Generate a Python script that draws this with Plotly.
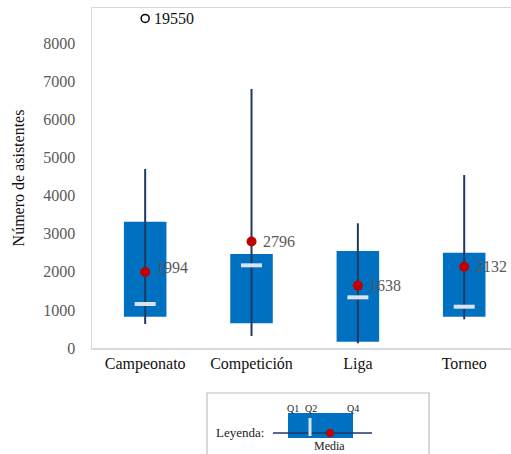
import plotly.graph_objects as go

categories = ["Campeonato", "Competición", "Liga", "Torneo"]
whisker_low = [630, 315, 123, 753]
q1 = [822, 648, 165, 822]
median = [1155, 2170, 1330, 1084]
q3 = [3315, 2467, 2546, 2500]
whisker_high = [4700, 6800, 3273, 4540]
means = [1994, 2796, 1638, 2132]
outlier_cat = ["Campeonato"]
outlier_value = [19550]
outlier_shown_at = [8650]
y_ticks = [0, 1000, 2000, 3000, 4000, 5000, 6000, 7000, 8000]

FONT = "Liberation Serif, Times New Roman, DejaVu Serif, serif"
BOX = "#0070C0"
WHISK = "#203864"
MED = "#DAE3F3"
MEAN = "#C00000"
GRAY = "#595959"

W, H = 511, 454
L, R, T, B = 92, 0, 8, 106
pw, ph = W - L - R, H - T - B

def px(x):
    return (x - L) / pw

def py(y):
    return (H - B - y) / ph

fig = go.Figure()

fig.add_trace(go.Bar(
    x=categories, y=[b - a for a, b in zip(q1, q3)], base=q1,
    width=0.4, marker=dict(color=BOX, line=dict(width=0)), hoverinfo="skip"))

wx, wy = [], []
for c, lo, hi in zip(categories, whisker_low, whisker_high):
    wx += [c, c, None]
    wy += [lo, hi, None]
fig.add_trace(go.Scatter(x=wx, y=wy, mode="lines",
                         line=dict(color=WHISK, width=2), hoverinfo="skip"))

fig.add_trace(go.Scatter(x=categories, y=median, mode="markers",
                         marker=dict(symbol="line-ew", size=15,
                                     line=dict(color=MED, width=4))))

fig.add_trace(go.Scatter(x=categories, y=means, mode="markers",
                         marker=dict(color=MEAN, size=10)))

fig.add_trace(go.Scatter(x=outlier_cat, y=outlier_shown_at, mode="markers",
                         marker=dict(symbol="circle-open", color="#000000", size=8,
                                     line=dict(width=1.5))))

shapes = []
annos = []

for i, (c, m) in enumerate(zip(categories, means)):
    annos.append(dict(text=str(m), x=c, y=m, xref="x", yref="y", showarrow=False,
                      xanchor="left", yanchor="middle", xshift=9,
                      yshift=5 if i == 0 else 0,
                      font=dict(family=FONT, size=16, color=GRAY)))
for c, v, s in zip(outlier_cat, outlier_value, outlier_shown_at):
    annos.append(dict(text=str(v), x=c, y=s, xref="x", yref="y", showarrow=False,
                      xanchor="left", yanchor="middle", xshift=7,
                      font=dict(family=FONT, size=16, color="#111111")))

# legend box
shapes.append(dict(type="rect", xref="paper", yref="paper",
                   x0=px(207), x1=px(429), y0=py(470), y1=py(393),
                   line=dict(color="#bfbfbf", width=1.2), fillcolor="white"))
shapes.append(dict(type="rect", xref="paper", yref="paper",
                   x0=px(288), x1=px(353), y0=py(438), y1=py(413),
                   line=dict(width=0), fillcolor=BOX))
shapes.append(dict(type="line", xref="paper", yref="paper",
                   x0=px(273), x1=px(372), y0=py(433), y1=py(433),
                   line=dict(color=WHISK, width=1.5)))
shapes.append(dict(type="line", xref="paper", yref="paper",
                   x0=px(310), x1=px(310), y0=py(418), y1=py(436),
                   line=dict(color=MED, width=3)))
shapes.append(dict(type="circle", xref="paper", yref="paper",
                   x0=px(326), x1=px(334), y0=py(437), y1=py(429),
                   line=dict(width=0), fillcolor=MEAN))

def ann(text, x, y, size, color="#222222", xanchor="center"):
    annos.append(dict(text=text, xref="paper", yref="paper", x=px(x), y=py(y),
                      showarrow=False, xanchor=xanchor, yanchor="middle",
                      font=dict(family=FONT, size=size, color=color)))

ann("Leyenda:", 214, 432, 13, xanchor="left")
ann("Q1", 293, 408, 10)
ann("Q2", 311, 408, 10)
ann("Q4", 353, 408, 10)
ann("Media", 329, 446, 12)

fig.update_layout(
    width=W, height=H,
    margin=dict(l=L, r=R, t=T, b=B, pad=0),
    plot_bgcolor="white", paper_bgcolor="white",
    showlegend=False, hovermode=False,
    shapes=shapes, annotations=annos,
    xaxis=dict(range=[-0.5, 3.44], showgrid=False, ticks="",
               showline=True, mirror=True, linecolor="#d9d9d9", linewidth=1.5,
               tickfont=dict(family=FONT, size=16, color="#111111"),
               automargin=False, fixedrange=True),
    yaxis=dict(range=[0, 8924], tickvals=y_ticks, showgrid=False, ticks="",
               zeroline=False, automargin=False,
               showline=True, mirror=False, linecolor="#d9d9d9", linewidth=1.5,
               tickfont=dict(family=FONT, size=16, color=GRAY),
               ticklabelstandoff=12,
               title=dict(text="Número de asistentes", standoff=14,
                          font=dict(family=FONT, size=16, color="#111111"))),
)

fig.write_html("out.html", config={"displayModeBar": False, "staticPlot": True},
               post_script="document.body.style.margin='0';document.body.style.padding='0';")
